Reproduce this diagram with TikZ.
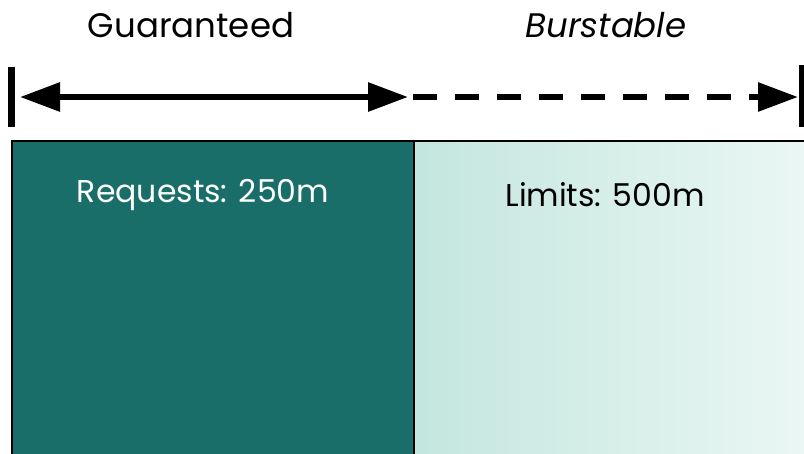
\documentclass[tikz,border=0pt]{standalone}
\usepackage{fontspec}
\setmainfont{Poppins}
\usetikzlibrary{arrows.meta, positioning}
\definecolor{tealdark}{HTML}{1A6E6A}
\definecolor{tealpale}{HTML}{C3E6DE}
\definecolor{tealwhite}{HTML}{EBF7F4}

\begin{document}
\begin{tikzpicture}[x=1pt, y=-1pt,
  label/.style={font=\fontsize{34}{40}\selectfont, inner sep=0pt},
  boxlabel/.style={font=\fontsize{31.5}{38}\selectfont, inner sep=0pt},
  span/.style={line width=6pt, -{Triangle[length=40pt, width=28pt]}},
  tick/.style={line width=7pt}]

  \useasboundingbox (0,0) rectangle (804,453);
  \clip (0,0) rectangle (804,453);

  % boxes
  \fill[tealdark] (12,141) rectangle (414,460);
  \shade[left color=tealpale, right color=tealwhite] (414,141) rectangle (810,460);
  \draw[line width=2pt] (12,460) -- (12,141) -- (810,141);
  \draw[line width=2pt] (414,141) -- (414,460);

  \node[boxlabel, text=white] (req) at (203,195) {Requests: 250m};
  \node[boxlabel] (lim) at (605,195) {Limits: 500m};

  % range markers
  \coordinate (lstart) at (20,97);
  \coordinate (lmid)   at (408,97);
  \coordinate (rstart) at (413,97);
  \coordinate (rend)   at (798,97);
  \draw[tick] (11,67) -- (11,127);
  \draw[tick] (802,65) -- (802,127);

  \draw[span, {Triangle[length=40pt, width=28pt]}-{Triangle[length=40pt, width=28pt]}] (lstart) -- (lmid);
  \draw[span, dash pattern=on 24pt off 18pt] (rstart) -- (rend);

  \node[label] (guar) at (191,25) {Guaranteed};
  \node[label, font=\fontsize{34}{40}\selectfont\itshape] (burst) at (606,25) {Burstable};
\end{tikzpicture}
\end{document}
